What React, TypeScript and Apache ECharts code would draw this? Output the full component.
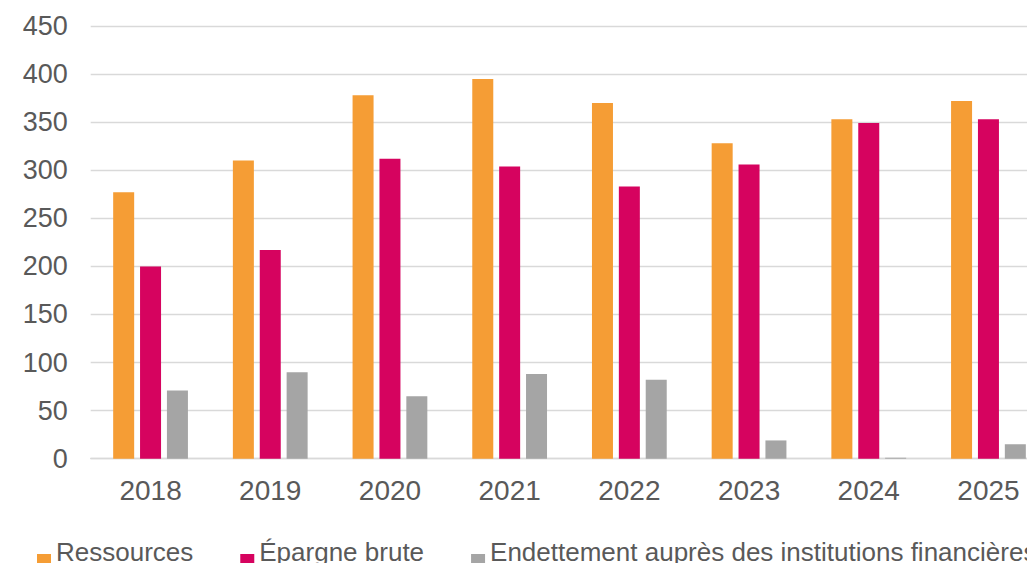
import React, { useEffect, useRef } from "react";
import * as echarts from "echarts";

const categories = ["2018", "2019", "2020", "2021", "2022", "2023", "2024", "2025"];
const ressources = [277, 310, 378, 395, 370, 328, 353, 372];
const epargneBrute = [200, 217, 312, 304, 283, 306, 349, 353];
const endettement = [71, 90, 65, 88, 82, 19, 1, 15];
const seriesNames = ["Ressources", "Épargne brute", "Endettement auprès des institutions financières"];
const colors = ["#F59D35", "#D6035F", "#A5A5A5"];

export default function App() {
  const ref = useRef<HTMLDivElement>(null);
  useEffect(() => {
    if (!ref.current) return;
    const chart = echarts.init(ref.current, null, { renderer: "svg" });
    const values = [ressources, epargneBrute, endettement];
    chart.setOption({
      animation: false,
      color: colors,
      textStyle: { fontFamily: "Liberation Sans, Arial, sans-serif" },
      grid: { left: 90.7, top: 26, width: 957.6, height: 432.7, containLabel: false },
      legend: {
        left: 37,
        top: 536,
        itemWidth: 14,
        itemHeight: 32,
        itemGap: 47,
        icon: "path://M0,0M0,18L14,18L14,32L0,32Z",
        padding: 0,
        textStyle: {
          fontSize: 26,
          color: "#595959",
          lineHeight: 26,
        },
        data: seriesNames,
      },
      xAxis: {
        type: "category",
        data: categories,
        axisLine: { show: true, lineStyle: { color: "#D9D9D9", width: 1.3 } },
        axisTick: { show: false },
        axisLabel: { fontSize: 28, color: "#595959", margin: 18 },
      },
      yAxis: {
        type: "value",
        min: 0,
        max: 450,
        interval: 50,
        axisLine: { show: false },
        axisTick: { show: false },
        axisLabel: { fontSize: 27, color: "#595959", margin: 23 },
        splitLine: { lineStyle: { color: "#D9D9D9", width: 1.3 } },
      },
      series: seriesNames.map((name, i) => ({
        name,
        type: "bar",
        data: values[i],
        barWidth: 21,
        barGap: "28%",
        itemStyle: { color: colors[i] },
      })),
    });
    return () => chart.dispose();
  }, []);
  return (
    <div style={{ position: "fixed", left: 0, top: 0, width: 1027, height: 563, overflow: "hidden", background: "#fff" }}>
      <div ref={ref} style={{ width: 1100, height: 563 }} />
    </div>
  );
}
